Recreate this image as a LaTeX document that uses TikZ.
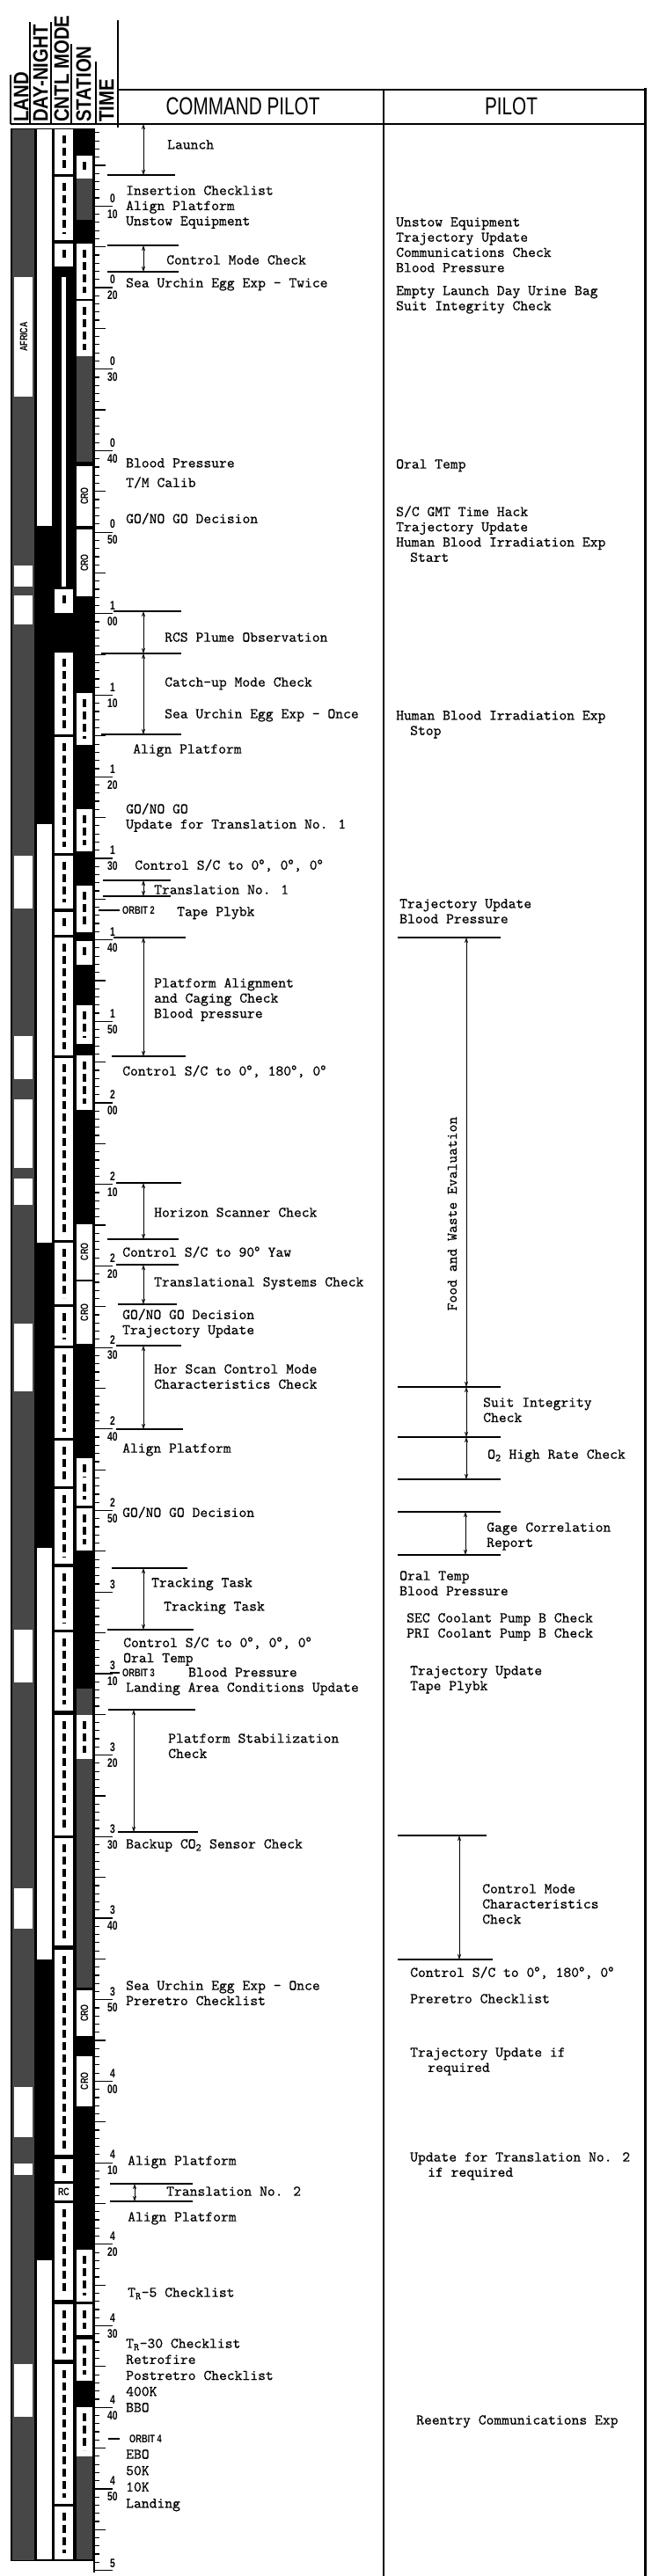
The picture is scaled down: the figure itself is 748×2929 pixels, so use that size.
\documentclass[tikz,border=0pt]{standalone}
\usepackage{fontspec}
\usetikzlibrary{arrows.meta}
\newfontfamily\condsans[FakeStretch=0.74]{Liberation Sans}
\newfontfamily\headsans[FakeStretch=0.85]{Liberation Sans}
\newfontfamily\typefont[Extension=.otf, FakeBold=0.5]{lmmono10-regular}
\newcommand{\typew}{\fontsize{16.8}{17.3}\selectfont\typefont}
\newcommand{\dg}{\textsuperscript{o}}
\tikzset{
    cptext/.style={anchor=north west, inner sep=0pt, align=left, font=\typew},
    colhead/.style={inner sep=0pt, font=\condsans\fontsize{28}{28}\selectfont},
    striphead/.style={rotate=90, anchor=west, inner sep=0pt,
        font=\headsans\bfseries\fontsize{24}{24}\selectfont},
    timelabel/.style={inner sep=0pt, font=\condsans\bfseries\fontsize{14}{14}\selectfont},
    orbitlabel/.style={anchor=west, inner sep=0pt,
        font=\condsans\bfseries\fontsize{12.5}{12.5}\selectfont},
    stationlabel/.style={rotate=90, inner sep=0pt,
        font=\condsans\bfseries\fontsize{12}{12}\selectfont},
    spanarrow/.style={{Stealth[length=6pt,width=4pt]}-{Stealth[length=6pt,width=4pt]},
        line width=0.9pt},
    markline/.style={line width=1.4pt},
    sea/.style={fill=black!72},
    inkmark/.style={line width=4pt, dash pattern=on 9pt off 5pt}
}

\begin{document}
\begin{tikzpicture}[x=1pt,y=-1pt]
\useasboundingbox (0,0) rectangle (748,2929);

% Frame and column heads
\draw[line width=2pt] (134,102) -- (735,102);
\draw[line width=2pt] (12,141) -- (735,141);
\draw[line width=2.5pt] (436,102) -- (436,2929);
\draw[line width=3pt] (733,100) -- (733,2929);
\draw[line width=1.5pt] (12,85) -- (12,141);
\draw[line width=1.5pt] (34,25) -- (34,141);
\draw[line width=1.5pt] (58,25) -- (58,141);
\draw[line width=1.5pt] (81,50) -- (81,141);
\draw[line width=1.5pt] (109,70) -- (109,141);
\draw[line width=1.5pt] (134,23) -- (134,145);

\node[striphead] (hland) at (24,139) {LAND};
\node[striphead] (hday) at (46,139) {DAY-NIGHT};
\node[striphead] (hcntl) at (70,139) {CNTL MODE};
\node[striphead] (hstat) at (95,139) {STATION};
\node[striphead] (htime) at (121,139) {TIME};

\node[colhead] (hcp) at (276,121) {COMMAND PILOT};
\node[colhead] (hpilot) at (581,121) {PILOT};

% Ground track strip
\fill[black] (12,146) rectangle (107,2912);
\fill[sea] (14,147) rectangle (39,2911);
\foreach \a/\b in {203/250, 405/525, 1920/2260, 2793/2910}
    \fill[sea] (87,\a) rectangle (105,\b);

% land masses
\foreach \a/\b in {315/451, 643/667, 677/710, 973/1033, 1178/1227, 1250/1328,
    1340/1370, 1505/1582, 1853/1913, 2147/2193, 2373/2430, 2460/2473, 2688/2748}
    \fill[white] (16,\a) rectangle (37,\b);
\node[stationlabel] (africa) at (27,383) {AFRICA};

% day and night
\foreach \a/\b in {147/598, 937/1413, 1760/2228, 2570/2910}
    \fill[white] (42,\a) rectangle (59,\b);

% control modes
\foreach \a/\b in {147/198, 201/273, 277/303, 670/697, 742/835, 838/970, 973/1033,
    1037/1063, 1066/1200, 1203/1410, 1413/1483, 1486/1530, 1533/1635, 1638/1690,
    1693/1778, 1782/1853, 1856/1945, 1950/2087, 2090/2212, 2217/2450, 2455/2480,
    2505/2615, 2620/2683, 2688/2847, 2850/2910}{
    \fill[white] (62,\a) rectangle (83,\b);
    \draw[inkmark] (72.5,\a+7) -- (72.5,\b-7);
}
\fill[white] (70,315) rectangle (75,667);
\fill[white] (62,2483) rectangle (83,2502);
\node[stationlabel, rotate=-90] (rkv) at (72.5,2492) {RC};

% stations
\foreach \a/\b in {177/203, 277/340, 342/405, 788/847, 920/968, 1007/1060, 1070/1097,
    1143/1187, 1200/1262, 1658/1690, 1680/1712, 1715/1763, 1950/2000, 2558/2617,
    2620/2655, 2660/2707, 2737/2793}{
    \fill[white] (87,\a) rectangle (105,\b);
    \draw[inkmark] (96,\a+7) -- (96,\b-7);
}
\foreach \a/\b/\n in {530/598/croA, 602/678/croB, 1392/1455/croC, 1457/1528/croD,
    2263/2315/croE, 2338/2395/croF}{
    \fill[white] (87,\a) rectangle (105,\b);
    \node[stationlabel] (\n) at (96,{(\a+\b)/2}) {CRO};
}

% Time scale
\draw[line width=1.2pt] (107,146) -- (107,2925);
\foreach \m in {1,...,300}{
    \pgfmathsetmacro{\len}{ifthenelse(mod(\m,10)==0,21,ifthenelse(mod(\m,5)==0,13,6))}
    \draw[line width=1.2pt] (107,141.6+9.27*\m) -- ++(\len,0);
}
\foreach \t in {10,20,...,290}{
    \pgfmathtruncatemacro{\hr}{\t/60}
    \pgfmathtruncatemacro{\mn}{mod(\t,60)}
    \node[timelabel] (h\t) at (128,141.6+9.27*\t-9) {\hr};
    \ifnum\t=180\else
        \node[timelabel] (m\t) at (128,141.6+9.27*\t+9) {\ifnum\mn=0 00\else\mn\fi};
    \fi
}
\node[timelabel] (h300) at (128,2915) {5};

% Command pilot
\coordinate (launchT) at (163,141);
\coordinate (launchB) at (163,199);
\draw[markline] (122,199) -- (199,199);
\draw[spanarrow] (launchT) -- (launchB);
\node[cptext] (launch) at (190,159) {Launch};
\node[cptext] (insert) at (143,211) {Insertion Checklist\\Align Platform\\Unstow Equipment};

\coordinate (cmodeT) at (163,279);
\coordinate (cmodeB) at (163,309);
\draw[markline] (122,279) -- (203,279);
\draw[markline] (122,309) -- (203,309);
\draw[spanarrow] (cmodeT) -- (cmodeB);
\node[cptext] (cmode) at (189,290) {Control Mode Check};
\node[cptext] (urchinA) at (143,316) {Sea Urchin Egg Exp - Twice};

\node[cptext] (bpA) at (143,521) {Blood Pressure};
\node[cptext] (tmcal) at (143,542) {T/M Calib};
\node[cptext] (gonogoA) at (143,583) {GO/NO GO Decision};

\coordinate (rcsT) at (163,695);
\coordinate (rcsB) at (163,743);
\coordinate (catchB) at (163,835);
\draw[markline] (129,695) -- (206,695);
\draw[markline] (115,743) -- (206,743);
\draw[markline] (115,835) -- (206,835);
\draw[spanarrow] (rcsT) -- (rcsB);
\draw[spanarrow] (rcsB) -- (catchB);
\node[cptext] (rcs) at (187,719) {RCS Plume Observation};
\node[cptext] (catchup) at (187,770) {Catch-up Mode Check};
\node[cptext] (urchinB) at (187,806) {Sea Urchin Egg Exp - Once};
\node[cptext] (alignA) at (151,846) {Align Platform};
\node[cptext] (gonogoB) at (143,913) {GO/NO GO\\Update for Translation No. 1};

\node[cptext] (ctlzeroA) at (153,977) {Control S/C to 0\dg, 0\dg, 0\dg};
\coordinate (transAT) at (163,1001);
\coordinate (transAB) at (163,1019);
\draw[markline] (117,1001) -- (194,1001);
\draw[markline] (117,1019) -- (194,1019);
\draw[spanarrow] (transAT) -- (transAB);
\node[cptext] (transA) at (175,1006) {Translation No. 1};
\draw[markline] (112,1035) -- (136,1035);
\node[orbitlabel] (orbitA) at (139,1035) {ORBIT 2};
\node[cptext] (tapeA) at (201,1031) {Tape Plybk};

\coordinate (platT) at (163,1066);
\coordinate (platB) at (163,1201);
\draw[markline] (129,1066) -- (211,1066);
\draw[markline] (127,1201) -- (211,1201);
\draw[spanarrow] (platT) -- (platB);
\node[cptext] (platal) at (175,1112) {Platform Alignment\\and Caging Check\\Blood pressure};
\node[cptext] (ctlhalfA) at (139,1211) {Control S/C to 0\dg, 180\dg, 0\dg};

\coordinate (horT) at (163,1345);
\coordinate (horB) at (163,1409);
\draw[markline] (132,1345) -- (206,1345);
\draw[markline] (122,1409) -- (203,1409);
\draw[spanarrow] (horT) -- (horB);
\node[cptext] (horizon) at (175,1373) {Horizon Scanner Check};
\node[cptext] (ctlyaw) at (139,1417) {Control S/C to 90\dg{} Yaw};

\coordinate (tsysT) at (163,1438);
\coordinate (tsysB) at (163,1483);
\draw[markline] (132,1438) -- (203,1438);
\draw[markline] (134,1483) -- (201,1483);
\draw[spanarrow] (tsysT) -- (tsysB);
\node[cptext] (transys) at (175,1452) {Translational Systems Check};
\node[cptext] (gonogoC) at (139,1488) {GO/NO GO Decision\\Trajectory Update};

\coordinate (hcharT) at (163,1530);
\coordinate (hcharB) at (163,1625);
\draw[markline] (132,1530) -- (206,1530);
\draw[markline] (132,1625) -- (208,1625);
\draw[spanarrow] (hcharT) -- (hcharB);
\node[cptext] (horchar) at (175,1551) {Hor Scan Control Mode\\Characteristics Check};
\node[cptext] (alignB) at (139,1641) {Align Platform};
\node[cptext] (gonogoD) at (139,1713) {GO/NO GO Decision};

\coordinate (trackT) at (163,1783);
\coordinate (trackB) at (163,1853);
\draw[markline] (127,1783) -- (213,1783);
\draw[markline] (122,1853) -- (220,1853);
\draw[spanarrow] (trackT) -- (trackB);
\node[cptext] (trackA) at (172,1794) {Tracking Task};
\node[cptext] (trackB) at (186,1821) {Tracking Task};
\node[cptext] (ctlzeroB) at (140,1861) {Control S/C to 0\dg, 0\dg, 0\dg\\Oral Temp};
\draw[markline] (125,1902) -- (136,1902);
\node[orbitlabel] (orbitB) at (139,1902) {ORBIT 3};
\node[cptext] (bpB) at (214,1896) {Blood Pressure};
\node[cptext] (landarea) at (143,1913) {Landing Area Conditions Update};

\coordinate (stabT) at (152,1944);
\coordinate (stabB) at (152,2083);
\draw[markline] (123,1944) -- (222,1944);
\draw[markline] (134,2083) -- (225,2083);
\draw[spanarrow] (stabT) -- (stabB);
\node[cptext] (platstab) at (191,1971) {Platform Stabilization\\Check};
\node[cptext] (cotwo) at (143,2091) {Backup CO\textsubscript{2} Sensor Check};
\node[cptext] (urchinC) at (143,2252) {Sea Urchin Egg Exp - Once\\Preretro Checklist};

\node[cptext] (alignC) at (145,2451) {Align Platform};
\coordinate (transBT) at (153,2483);
\coordinate (transBB) at (153,2503);
\draw[markline] (125,2483) -- (219,2483);
\draw[markline] (125,2503) -- (219,2503);
\draw[spanarrow] (transBT) -- (transBB);
\node[cptext] (transB) at (189,2486) {Translation No. 2};
\node[cptext] (alignD) at (145,2515) {Align Platform};
\node[cptext] (trfive) at (145,2601) {T\textsubscript{R}-5 Checklist};
\node[cptext, font=\fontsize{16.8}{18.2}\selectfont\typefont] (trthirty) at (143,2659)
    {T\textsubscript{R}-30 Checklist\\Retrofire\\Postretro Checklist\\400K\\BBO};
\draw[markline] (123,2773) -- (136,2773);
\node[orbitlabel] (orbitC) at (147,2773) {ORBIT 4};
\node[cptext, font=\fontsize{16.8}{18.6}\selectfont\typefont] (ebo) at (143,2785)
    {EBO\\50K\\10K\\Landing};

% Pilot
\node[cptext] (unstow) at (450,247) {Unstow Equipment\\Trajectory Update\\Communications Check\\Blood Pressure};
\node[cptext] (urinebag) at (450,325) {Empty Launch Day Urine Bag\\Suit Integrity Check};
\node[cptext] (oralA) at (450,522) {Oral Temp};
\node[cptext] (gmthack) at (450,575) {S/C GMT Time Hack\\Trajectory Update\\Human Blood Irradiation Exp\\\hspace*{16pt}Start};
\node[cptext] (hbstop) at (450,808) {Human Blood Irradiation Exp\\\hspace*{16pt}Stop};
\node[cptext] (trajbp) at (454,1022) {Trajectory Update\\Blood Pressure};

\coordinate (foodT) at (530,1066);
\coordinate (foodB) at (530,1577);
\coordinate (suitB) at (530,1634);
\coordinate (otwoB) at (530,1682);
\draw[markline] (452,1066) -- (569,1066);
\draw[markline] (452,1577) -- (569,1577);
\draw[markline] (452,1634) -- (569,1634);
\draw[markline] (452,1682) -- (569,1682);
\draw[spanarrow] (foodT) -- (foodB);
\draw[spanarrow] (foodB) -- (suitB);
\draw[spanarrow] (suitB) -- (otwoB);
\node[inner sep=0pt, rotate=90, font=\typew] (food) at (514,1380) {Food and Waste Evaluation};
\node[cptext] (suit) at (549,1589) {Suit Integrity\\Check};
\node[cptext] (otwo) at (554,1648) {O\textsubscript{2} High Rate Check};

\coordinate (gageT) at (529,1719);
\coordinate (gageB) at (529,1768);
\draw[markline] (452,1719) -- (569,1719);
\draw[markline] (452,1768) -- (569,1768);
\draw[spanarrow] (gageT) -- (gageB);
\node[cptext] (gage) at (553,1731) {Gage Correlation\\Report};
\node[cptext] (oralB) at (454,1786) {Oral Temp\\Blood Pressure};
\node[cptext] (coolant) at (462,1834) {SEC Coolant Pump B Check\\PRI Coolant Pump B Check};
\node[cptext] (trajtape) at (466,1894) {Trajectory Update\\Tape Plybk};

\coordinate (cmcT) at (522,2087);
\coordinate (cmcB) at (522,2228);
\draw[markline] (452,2087) -- (553,2087);
\draw[markline] (452,2228) -- (560,2228);
\draw[spanarrow] (cmcT) -- (cmcB);
\node[cptext] (cmchar) at (548,2142) {Control Mode\\Characteristics\\Check};
\node[cptext] (ctlhalfB) at (466,2236) {Control S/C to 0\dg, 180\dg, 0\dg};
\node[cptext] (preretro) at (466,2267) {Preretro Checklist};
\node[cptext] (trajif) at (466,2328) {Trajectory Update if\\\hspace*{20pt}required};
\node[cptext] (updtrans) at (466,2447) {Update for Translation No. 2\\\hspace*{20pt}if required};
\node[cptext] (reentry) at (473,2746) {Reentry Communications Exp};
\end{tikzpicture}
\end{document}
